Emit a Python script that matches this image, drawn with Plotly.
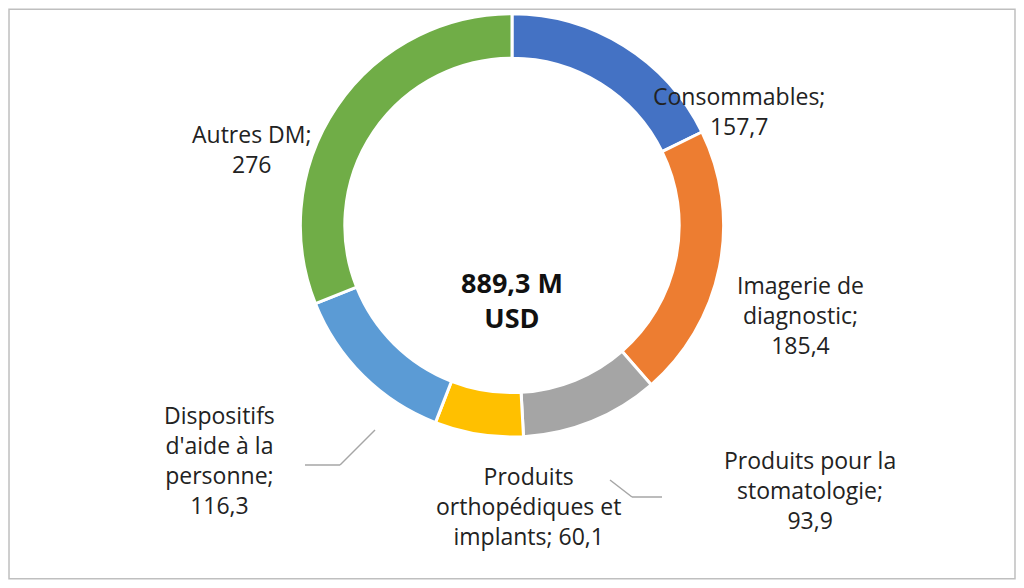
import plotly.graph_objects as go

labels = ["Consommables", "Imagerie de diagnostic", "Produits pour la stomatologie",
          "Produits orthopédiques et implants", "Dispositifs d'aide à la personne", "Autres DM"]
values = [157.7, 185.4, 93.9, 60.1, 116.3, 276]
colors = ["#4472C4", "#ED7D31", "#A5A5A5", "#FFC000", "#5B9BD5", "#70AD47"]
label_texts = ["Consommables;<br>157,7", "Imagerie de<br>diagnostic;<br>185,4",
               "Produits pour la<br>stomatologie;<br>93,9", "Produits<br>orthopédiques et<br>implants; 60,1",
               "Dispositifs<br>d'aide à la<br>personne;<br>116,3", "Autres DM;<br>276"]
label_pos = [(0.725, 0.82), (0.786, 0.464), (0.796, 0.158), (0.516, 0.129), (0.21, 0.21), (0.242, 0.753)]
center_text = "<b>889,3 M<br>USD</b>"

W, H = 1008, 572

def px(x, y):
    return (x - 8) / W, 1 - (y - 8) / H

fig = go.Figure(go.Pie(
    labels=labels, values=values, hole=0.79, sort=False, direction="clockwise", rotation=0,
    marker=dict(colors=colors, line=dict(color="white", width=3)),
    textinfo="none", showlegend=False,
    domain=dict(x=[0.29, 0.71], y=[0.25, 0.99]),
))

font = dict(family="Open Sans, Lato, sans-serif", size=23, color="#222222")
anns = [dict(x=x, y=y, xref="paper", yref="paper", text=t, showarrow=False, font=font,
             xanchor="center", yanchor="middle")
        for t, (x, y) in zip(label_texts, label_pos)]
anns.append(dict(x=0.5, y=0.49, xref="paper", yref="paper", text=center_text, showarrow=False,
                 xanchor="center", yanchor="middle",
                 font=dict(family="Open Sans, Lato, sans-serif", size=27, color="#111111")))

def seg(a, b):
    x0, y0 = px(*a); x1, y1 = px(*b)
    return dict(type="line", xref="paper", yref="paper", x0=x0, y0=y0, x1=x1, y1=y1,
                line=dict(color="#A6A6A6", width=1.5))

shapes = [
    dict(type="rect", xref="paper", yref="paper", x0=0.001, y0=0.002, x1=0.999, y1=0.998,
         line=dict(color="#BFBFBF", width=1.5)),
    seg((610, 480), (632, 497)), seg((632, 497), (662, 497)),
    seg((375, 430), (340, 465)), seg((340, 465), (305, 465)),
]

fig.update_layout(width=W, height=H, margin=dict(l=0, r=0, t=0, b=0),
                  paper_bgcolor="white", plot_bgcolor="white",
                  annotations=anns, shapes=shapes)
fig.write_html("out.html")
